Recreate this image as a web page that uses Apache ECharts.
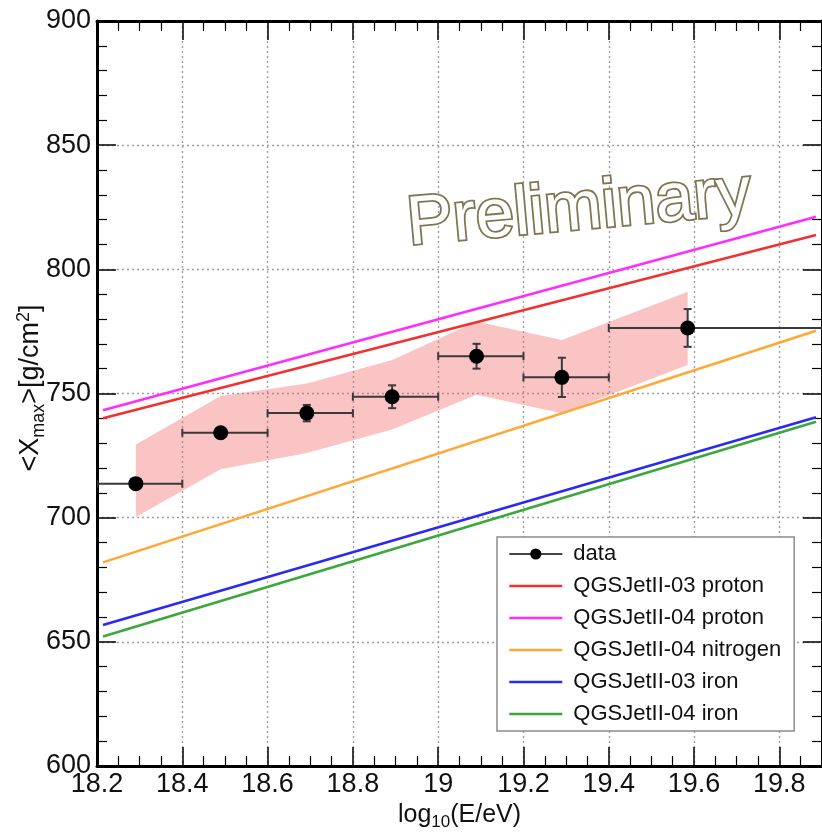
<!DOCTYPE html>
<html>
<head>
<meta charset="utf-8">
<script src="https://cdn.jsdelivr.net/npm/echarts@6/dist/echarts.min.js"></script>
<style>
  html, body { margin: 0; padding: 0; background: #fff; }
  #chart { width: 822px; height: 839px; }
</style>
</head>
<body>
<div id="chart"></div>
<script>
// ---- measured <Xmax> per energy bin ----
const dataLogE   = [18.291, 18.49, 18.692, 18.892, 19.09, 19.29, 19.585];
const dataXmax   = [713.7, 734.2, 742.1, 748.7, 765.0, 756.5, 776.4];
const statErr    = [2.0, 2.0, 3.3, 4.6, 5.0, 7.9, 7.6];
const binLow     = [18.2, 18.4, 18.6, 18.8, 19.0, 19.2, 19.4];
const binHigh    = [18.4, 18.6, 18.8, 19.0, 19.2, 19.4, 20.0];

// ---- systematic uncertainty band (upper / lower edge at each point) ----
const sysUpper   = [729.5, 749.0, 754.0, 763.5, 779.0, 771.5, 791.0];
const sysLower   = [700.3, 719.5, 726.0, 735.5, 749.5, 742.0, 761.5];

// ---- model predictions (straight lines, start and end) ----
const modelLogE  = [18.214, 19.886];
const qgs03p     = [740.0, 813.8];
const qgs04p     = [743.3, 821.2];
const qgs04N     = [682.0, 775.3];
const qgs03Fe    = [656.8, 740.4];
const qgs04Fe    = [652.1, 738.6];

const modelNames  = ['QGSJetII-03 proton', 'QGSJetII-04 proton', 'QGSJetII-04 nitrogen', 'QGSJetII-03 iron', 'QGSJetII-04 iron'];
const modelValues = [qgs03p, qgs04p, qgs04N, qgs03Fe, qgs04Fe];
const modelColors = ['#f23030', '#ff2cff', '#ffa838', '#2a2af2', '#3aa83a'];

// ---- axis ticks ----
const xTicks = [18.2, 18.4, 18.6, 18.8, 19.0, 19.2, 19.4, 19.6, 19.8];
const xRange = [18.2, 19.9];
const yTicks = [600, 650, 700, 750, 800, 850, 900];

const FONT = "'Liberation Sans', Arial, Helvetica, sans-serif";
const xInterval = Math.round((xTicks[1] - xTicks[0]) * 1000) / 1000;
const yInterval = yTicks[1] - yTicks[0];

const chart = echarts.init(document.getElementById('chart'));

function axisCommon(showLabels) {
  return {
    axisLine: { show: true, onZero: false, lineStyle: { color: '#000', width: 3 } },
    axisTick: { show: true, inside: true, length: 19, lineStyle: { color: '#000', width: 1.5 } },
    minorTick: { show: true, length: 10, lineStyle: { color: '#000', width: 1.2 } },
    axisLabel: {
      show: showLabels, color: '#111', fontFamily: FONT, fontSize: 27,
      showMinLabel: true, showMaxLabel: true
    }
  };
}

const modelSeries = modelNames.map((name, i) => ({
  name: name,
  type: 'line',
  data: modelLogE.map((x, k) => [x, modelValues[i][k]]),
  showSymbol: false,
  symbol: 'none',
  lineStyle: { color: modelColors[i], width: 2.6 },
  itemStyle: { color: modelColors[i] },
  z: 3,
  silent: true
}));

const option = {
  animation: false,
  backgroundColor: '#fff',
  grid: { left: 97, right: 0, top: 21, bottom: 73, containLabel: false },
  xAxis: [
    Object.assign({
      type: 'value', min: xRange[0], max: xRange[1], interval: xInterval,
      position: 'bottom',
      splitLine: { show: true, lineStyle: { color: '#a0a0a0', type: [2, 3], width: 1.4 } },
      name: '{t|log}{s|10}{t|(E/eV)}',
      nameLocation: 'middle', nameGap: 30,
      nameTextStyle: {
        rich: {
          t: { fontFamily: FONT, fontSize: 25, color: '#111' },
          s: { fontFamily: FONT, fontSize: 17, color: '#111', padding: [14, 0, 0, 0] }
        }
      }
    }, axisCommon(true), {
      minorTick: { show: true, splitNumber: 4, length: 10, lineStyle: { color: '#000', width: 1.2 } },
      axisLabel: { show: true, color: '#111', fontFamily: FONT, fontSize: 27, margin: 5 }
    }),
    Object.assign({
      type: 'value', min: xRange[0], max: xRange[1], interval: xInterval,
      position: 'top', splitLine: { show: false }
    }, axisCommon(false), {
      minorTick: { show: true, splitNumber: 4, length: 10, lineStyle: { color: '#000', width: 1.2 } }
    })
  ],
  yAxis: [
    Object.assign({
      type: 'value', min: yTicks[0], max: yTicks[yTicks.length - 1], interval: yInterval,
      position: 'left',
      splitLine: { show: true, lineStyle: { color: '#a0a0a0', type: [2, 3], width: 1.4 } }
    }, axisCommon(true), {
      minorTick: { show: true, splitNumber: 5, length: 10, lineStyle: { color: '#000', width: 1.2 } },
      axisLabel: { show: true, color: '#111', fontFamily: FONT, fontSize: 27, margin: 6 }
    }),
    Object.assign({
      type: 'value', min: yTicks[0], max: yTicks[yTicks.length - 1], interval: yInterval,
      position: 'right', splitLine: { show: false }
    }, axisCommon(false), {
      minorTick: { show: true, splitNumber: 5, length: 10, lineStyle: { color: '#000', width: 1.2 } }
    })
  ],
  legend: {
    orient: 'vertical',
    left: 497, top: 537,
    backgroundColor: '#fff',
    borderColor: '#8c8c8c', borderWidth: 1.5,
    padding: [4, 13, 4, 11],
    itemWidth: 53, itemHeight: 14, itemGap: 6,
    textStyle: { fontFamily: FONT, fontSize: 22, color: '#111', lineHeight: 26, padding: [0, 0, 0, 6] },
    selectedMode: false,
    data: [
      { name: 'data', itemStyle: { color: '#000', opacity: 1 }, lineStyle: { color: '#444', width: 2, opacity: 1 } }
    ].concat(modelNames.map((n, i) => ({
      name: n,
      itemStyle: { opacity: 0 },
      lineStyle: { color: modelColors[i], width: 2.6, opacity: 1 }
    })))
  },
  graphic: [
    // y axis title
    {
      type: 'text',
      x: 31, y: 388,
      rotation: Math.PI / 2,
      style: {
        text: '{t|<X}{s|max}{t|>[g/cm}{p|2}{t|]}',
        align: 'center', verticalAlign: 'middle',
        rich: {
          t: { fontFamily: FONT, fontSize: 27, fill: '#111' },
          s: { fontFamily: FONT, fontSize: 18, fill: '#111', padding: [16, 0, 0, 0] },
          p: { fontFamily: FONT, fontSize: 18, fill: '#111', padding: [0, 0, 14, 0] }
        }
      },
      z: 20
    },
    // watermark
    {
      type: 'text',
      x: 579, y: 210,
      rotation: 0.09,
      style: {
        text: 'Preliminary',
        align: 'center', verticalAlign: 'middle',
        fontFamily: FONT, fontSize: 69,
        fill: '#ffffff',
        stroke: '#7f7553', lineWidth: 3.6,
        shadowBlur: 5, shadowColor: 'rgba(60,50,20,0.5)', shadowOffsetX: 1, shadowOffsetY: 2
      },
      z: 20
    }
  ],
  series: [
    // systematic band polygon
    {
      name: 'sys',
      type: 'custom',
      data: dataLogE.map((x, i) => [x, sysUpper[i], sysLower[i]]),
      renderItem: function (params, api) {
        if (params.dataIndex !== 0) return null;
        const pts = [];
        for (let i = 0; i < dataLogE.length; i++) pts.push(api.coord([dataLogE[i], sysUpper[i]]));
        for (let i = dataLogE.length - 1; i >= 0; i--) pts.push(api.coord([dataLogE[i], sysLower[i]]));
        return {
          type: 'polygon',
          shape: { points: pts },
          style: { fill: 'rgba(242,92,92,0.36)' }
        };
      },
      z: 1, silent: true
    },
    ...modelSeries,
    // error bars
    {
      name: 'errors',
      type: 'custom',
      data: dataLogE.map((x, i) => [x, dataXmax[i], statErr[i], binLow[i], binHigh[i]]),
      renderItem: function (params, api) {
        const x = api.value(0), y = api.value(1), e = api.value(2);
        const lo = api.coord([api.value(3), y]);
        const hi = api.coord([api.value(4), y]);
        const top = api.coord([x, y + e]);
        const bot = api.coord([x, y - e]);
        const c = 6, w = 4;
        const st = { stroke: '#3a3a3a', lineWidth: 2 };
        return {
          type: 'group',
          children: [
            { type: 'line', shape: { x1: lo[0], y1: lo[1], x2: hi[0], y2: hi[1] }, style: st },
            { type: 'line', shape: { x1: lo[0], y1: lo[1] - c / 2 - 1, x2: lo[0], y2: lo[1] + c / 2 + 1 }, style: st },
            { type: 'line', shape: { x1: hi[0], y1: hi[1] - c / 2 - 1, x2: hi[0], y2: hi[1] + c / 2 + 1 }, style: st },
            { type: 'line', shape: { x1: top[0], y1: top[1], x2: bot[0], y2: bot[1] }, style: st },
            { type: 'line', shape: { x1: top[0] - w, y1: top[1], x2: top[0] + w, y2: top[1] }, style: st },
            { type: 'line', shape: { x1: bot[0] - w, y1: bot[1], x2: bot[0] + w, y2: bot[1] }, style: st }
          ]
        };
      },
      clip: true,
      z: 4, silent: true
    },
    // data points
    {
      name: 'data',
      type: 'line',
      data: dataLogE.map((x, i) => [x, dataXmax[i]]),
      symbol: 'circle', symbolSize: 15, showSymbol: true,
      itemStyle: { color: '#000' },
      lineStyle: { width: 0, opacity: 0, color: '#444' },
      z: 5, silent: true
    }
  ]
};

chart.setOption(option);
</script>
</body>
</html>
